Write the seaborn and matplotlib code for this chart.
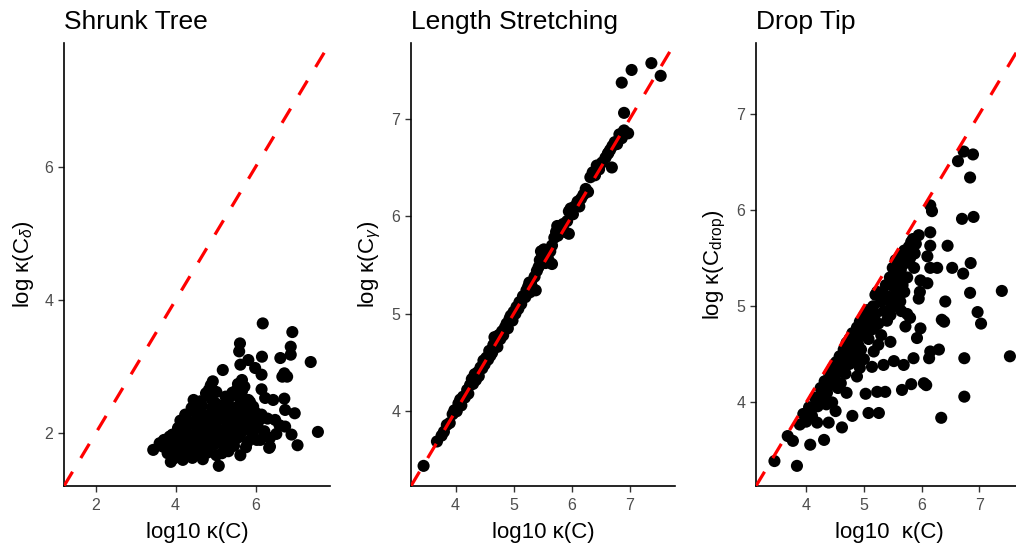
import numpy as np
import matplotlib
matplotlib.use("Agg")
import matplotlib.pyplot as plt
import seaborn as sns
from matplotlib.ticker import MultipleLocator

# ---------------- data ----------------
panel_titles = ["Shrunk Tree", "Length Stretching", "Drop Tip"]
x_labels = ["log10 κ(C)", "log10 κ(C)", "log10  κ(C)"]
y_labels = [r"log κ(C$_{\delta}$)", r"log κ(C$_{\gamma}$)", r"log κ(C$_{\mathrm{drop}}$)"]
tick_steps = [2, 1, 1]

shrunk_x = [6.18, 6.92, 7.38, 7.56, 5.61, 5.59, 5.18, 6.88, 6.88, 6.62, 6.16, 5.82, 5.62, 5.99, 6.15,
            6.72, 6.79, 6.67, 5.66, 4.93, 4.83, 6.15, 6.24, 6.44, 6.72, 5.53, 5.37, 5.82, 4.45, 6.74,
            6.98, 6.15, 6.49, 6.74, 6.90, 7.05, 6.36, 6.36, 5.62, 5.08, 3.88, 3.44, 3.71, 6.03, 5.16, 6.34,
            3.95, 4.18, 4.42, 4.68,
            3.80, 4.06, 4.30, 4.55, 4.80, 5.02, 5.32,
            3.68, 3.95, 4.20, 4.44, 4.70, 4.96, 5.22, 5.46, 5.76,
            3.78, 4.02, 4.26, 4.50, 4.76, 5.00, 5.26, 5.52, 5.80, 6.12,
            3.92, 4.16, 4.40, 4.64, 4.90, 5.14, 5.40, 5.66, 5.92, 6.22, 6.52,
            4.06, 4.30, 4.54, 4.80, 5.04, 5.30, 5.56, 5.82, 6.06, 6.60,
            4.12, 4.36, 4.62, 4.86, 5.10, 5.36, 5.62, 5.86, 6.10, 6.30,
            4.24, 4.50, 4.74, 5.00, 5.26, 5.50, 5.74, 6.00,
            4.40, 4.66, 4.92, 5.18, 5.48, 5.70, 5.94,
            4.62, 4.90, 5.30, 5.62, 5.86,
            4.76, 5.02, 5.42, 5.66,
            4.88, 5.56, 5.72,
            4.00, 4.30, 4.60, 4.85, 5.10, 5.40, 5.00, 4.70, 5.25, 4.50,
            4.20, 5.60, 5.90, 5.45, 4.95, 5.20, 4.40, 3.60, 3.85, 6.00]
shrunk_y = [3.65, 3.52, 3.07, 2.02, 3.35, 3.23, 2.95, 3.30, 3.18, 3.13, 3.15, 3.10, 3.03, 2.98, 2.88,
            2.90, 2.85, 2.85, 2.80, 2.78, 2.65, 2.66, 2.53, 2.50, 2.52, 2.65, 2.55, 2.50, 2.50, 2.35,
            2.30, 2.28, 2.20, 2.10, 1.98, 1.82, 1.93, 1.80, 1.67, 1.51, 1.57, 1.75, 1.90, 1.90, 1.70, 1.78,
            1.62, 1.60, 1.63, 1.61,
            1.70, 1.68, 1.72, 1.69, 1.71, 1.67, 1.73,
            1.80, 1.78, 1.82, 1.77, 1.80, 1.83, 1.78, 1.81, 1.79,
            1.88, 1.92, 1.87, 1.91, 1.88, 1.93, 1.89, 1.92, 1.87, 1.90,
            1.98, 2.02, 1.97, 2.01, 1.99, 2.03, 1.98, 2.02, 1.99, 2.03, 1.99,
            2.08, 2.12, 2.07, 2.11, 2.08, 2.12, 2.09, 2.12, 2.08, 2.12,
            2.19, 2.17, 2.21, 2.18, 2.22, 2.19, 2.21, 2.17, 2.20, 2.22,
            2.28, 2.31, 2.27, 2.30, 2.29, 2.32, 2.28, 2.31,
            2.38, 2.41, 2.39, 2.42, 2.38, 2.41, 2.40,
            2.48, 2.51, 2.47, 2.50, 2.47,
            2.60, 2.62, 2.61, 2.63,
            2.72, 2.74, 2.70,
            1.75, 1.95, 1.85, 2.05, 1.90, 2.15, 2.45, 2.25, 2.55, 2.15,
            2.05, 1.95, 2.25, 2.60, 2.20, 2.35, 1.70, 1.85, 1.95, 2.10]

stretch_x = [3.45, 3.68, 3.76, 3.80, 3.85, 3.90, 3.95, 3.98, 4.02, 4.05, 4.08, 4.10, 4.13, 4.16, 4.20,
             4.22, 4.25, 4.28, 4.30, 4.33, 4.35, 4.38, 4.40, 4.43, 4.46, 4.48, 4.50, 4.53, 4.56, 4.58,
             4.60, 4.63, 4.65, 4.67, 4.70, 4.72, 4.74, 4.77, 4.80, 4.82, 4.85, 4.88, 4.90, 4.93, 4.95,
             4.98, 5.00, 5.03, 5.05, 5.08, 5.10, 5.13, 5.16, 5.20, 5.22, 5.25, 5.28, 5.30, 5.33, 5.36,
             5.40, 5.43, 5.45, 5.47, 5.50, 5.52, 5.55, 5.58, 5.60, 5.63, 5.66, 5.70, 5.73, 5.76, 5.78,
             5.82, 5.85, 5.88, 5.92, 5.95, 5.98, 6.02, 6.05, 6.10, 6.13, 6.16, 6.20, 6.24, 6.28, 6.32,
             6.36, 6.40, 6.43, 6.47, 6.52, 6.58, 6.62, 6.66, 6.69, 6.70, 6.74, 6.78, 6.82, 6.86, 6.90,
             6.97, 6.90, 6.86, 7.03, 7.37, 7.53, 5.27, 5.38, 5.49, 5.66, 5.75, 5.95, 6.63]
stretch_y = [3.44, 3.69, 3.75, 3.79, 3.86, 3.88, 3.97, 4.01, 4.00, 4.08, 4.12, 4.06, 4.15, 4.14, 4.22,
             4.18, 4.27, 4.33, 4.28, 4.38, 4.32, 4.40, 4.36, 4.45, 4.44, 4.52, 4.48, 4.55, 4.53, 4.62,
             4.57, 4.60, 4.68, 4.76, 4.70, 4.66, 4.78, 4.74, 4.82, 4.78, 4.86, 4.90, 4.85, 4.95, 4.98,
             4.93, 5.02, 5.00, 5.07, 5.05, 5.12, 5.10, 5.18, 5.17, 5.24, 5.28, 5.22, 5.32, 5.26, 5.38,
             5.44, 5.48, 5.55, 5.64, 5.58, 5.66, 5.52, 5.60, 5.55, 5.64, 5.70, 5.78, 5.84, 5.80, 5.90,
             5.86, 5.92, 5.84, 5.95, 6.05, 6.08, 6.02, 6.10, 6.15, 6.10, 6.18, 6.22, 6.28, 6.25, 6.40,
             6.45, 6.42, 6.52, 6.48, 6.55, 6.60, 6.64, 6.68, 6.50, 6.72, 6.76, 6.74, 6.84, 6.80, 6.88,
             6.85, 7.06, 7.37, 7.50, 7.57, 7.44, 5.32, 5.24, 5.60, 5.51, 5.90, 5.82, 6.65]

drop_x = [6.73, 6.89, 6.63, 6.84, 6.70, 6.90, 6.15, 6.18, 6.15, 6.45, 5.95, 5.82, 6.15, 6.10, 6.15,
          6.27, 6.53, 6.72, 6.85, 6.84, 7.39, 6.41, 5.97, 6.10, 5.87, 5.98, 5.95, 5.20,
          6.74, 6.74, 6.34, 7.53, 7.03, 6.97, 6.39, 6.13, 6.08, 6.15,
          3.45, 3.84, 3.68, 3.77, 4.07, 4.31, 3.89, 4.19, 4.39, 4.62, 4.51, 4.80, 5.08, 5.26, 5.03,
          5.23, 5.37, 5.66, 5.82, 6.04, 5.14, 5.34, 5.52, 5.69, 5.86, 4.88, 4.93, 5.17, 5.46, 5.92,
          6.30, 5.72, 5.98, 6.35, 5.63, 5.46, 5.23,
          3.95, 4.00, 4.05, 4.10, 4.15, 4.20, 4.25, 4.28, 4.32, 4.36, 4.40, 4.42, 4.46, 4.50, 4.52,
          4.55, 4.58, 4.60, 4.62, 4.65, 4.68, 4.70, 4.72, 4.75, 4.78, 4.80, 4.82, 4.85, 4.88, 4.90,
          4.93, 4.95, 4.98, 5.00, 5.03, 5.06, 5.08, 5.10, 5.14, 5.16, 5.20, 5.25, 5.30, 5.35, 5.38,
          5.42, 5.45, 5.48, 5.50, 5.52, 5.55, 5.57, 5.60, 5.62, 5.64, 5.67, 5.70, 5.72, 5.75, 5.78,
          5.80, 5.85, 5.88, 5.65, 5.75, 5.80, 5.58, 4.45, 4.70, 4.55, 4.35, 4.90, 5.00, 4.75, 5.30,
          5.25,
          4.30, 4.45, 4.60, 4.75, 4.90, 5.05, 5.20, 5.35, 5.50, 5.65, 5.80, 5.90, 5.55, 5.70, 5.40]
drop_y = [6.61, 6.58, 6.51, 6.34, 5.91, 5.93, 6.05, 5.99, 5.77, 5.63, 5.74, 5.67, 5.63, 5.52, 5.40,
          5.40, 5.40, 5.34, 5.45, 5.14, 5.16, 5.05, 5.15, 5.24, 5.40, 5.27, 5.08, 5.12,
          4.46, 4.06, 3.84, 4.48, 4.82, 4.94, 4.84, 4.46, 4.18, 4.53,
          3.39, 3.34, 3.65, 3.60, 3.56, 3.61, 3.77, 3.79, 3.79, 3.74, 3.91, 3.86, 3.89, 3.89, 4.09,
          4.11, 4.11, 4.13, 4.19, 4.20, 4.37, 4.39, 4.43, 4.39, 4.46, 4.27, 4.36, 4.53, 4.63, 4.67,
          4.55, 4.79, 4.77, 4.86, 5.05, 4.91, 5.15,
          3.88, 3.80, 3.95, 3.86, 4.05, 3.96, 4.15, 4.02, 4.22, 4.10, 4.30, 4.18, 4.36, 4.24, 4.42,
          4.32, 4.48, 4.20, 4.40, 4.55, 4.30, 4.62, 4.48, 4.66, 4.56, 4.72, 4.44, 4.62, 4.78, 4.68,
          4.84, 4.55, 4.74, 4.90, 4.80, 4.96, 4.66, 4.86, 4.76, 5.00, 4.92, 4.82, 5.05, 4.95, 5.22,
          5.10, 5.30, 5.02, 5.40, 5.20, 5.48, 5.30, 5.12, 5.52, 5.38, 5.22, 5.58, 5.45, 5.30, 5.62,
          5.50, 5.70, 5.55, 4.95, 4.92, 4.88, 5.00, 4.00, 4.10, 4.15, 3.98, 4.50, 4.45, 4.40, 4.70,
          4.60,
          4.12, 4.25, 4.38, 4.52, 4.60, 4.72, 4.80, 5.12, 5.28, 5.45, 5.60, 5.65, 5.10, 5.15, 4.85]

panels = [(shrunk_x, shrunk_y), (stretch_x, stretch_y), (drop_x, drop_y)]

# ---------------- style ----------------
sns.set_style("ticks")
plt.rcParams['font.family'] = ['Liberation Sans', 'DejaVu Sans']
plt.rcParams['mathtext.fontset'] = 'custom'
plt.rcParams['mathtext.rm'] = 'Liberation Sans'
plt.rcParams['mathtext.it'] = 'Liberation Sans:italic'
plt.rcParams['mathtext.bf'] = 'Liberation Sans:bold'

W, H = 1016, 550
fig = plt.figure(figsize=(W / 100, H / 100), dpi=100)
fig.patch.set_facecolor('white')

ax_boxes = [(64, 266), (411, 264), (756, 266)]
ax_bottom, ax_height = 64, 443

for i, ((xs, ys), (left, width)) in enumerate(zip(panels, ax_boxes)):
    ax = fig.add_axes([left / W, ax_bottom / H, width / W, ax_height / H])
    sns.scatterplot(x=xs, y=ys, ax=ax, color='black', s=76, edgecolor='none',
                    linewidth=0, zorder=2)
    allv = np.concatenate([np.asarray(xs), np.asarray(ys)])
    lo, hi = allv.min(), allv.max()
    pad = 0.05 * (hi - lo)
    ax.set_xlim(lo - pad, hi + pad)
    ax.set_ylim(lo - pad, hi + pad)
    ax.axline((lo, lo), slope=1, color='#FF0000', lw=2.3, ls=(0, (5.2, 5.0)), zorder=3)

    ax.xaxis.set_major_locator(MultipleLocator(tick_steps[i]))
    ax.yaxis.set_major_locator(MultipleLocator(tick_steps[i]))

    for side in ['top', 'right']:
        ax.spines[side].set_visible(False)
    for side in ['left', 'bottom']:
        ax.spines[side].set_linewidth(1.2)
        ax.spines[side].set_color('black')
    ax.tick_params(axis='both', length=4.3, width=1.0, color='#333333',
                   labelcolor='#4D4D4D', labelsize=11.5)
    ax.tick_params(axis='x', pad=4.5)
    ax.tick_params(axis='y', pad=3.3)

    ax.set_title(panel_titles[i], loc='left', fontsize=19, pad=10, color='black')
    ax.set_xlabel(x_labels[i], fontsize=16, labelpad=6, color='black')
    ax.set_ylabel(y_labels[i], fontsize=16, labelpad=6, color='black')

fig.savefig("out.png", dpi=100, facecolor='white')
